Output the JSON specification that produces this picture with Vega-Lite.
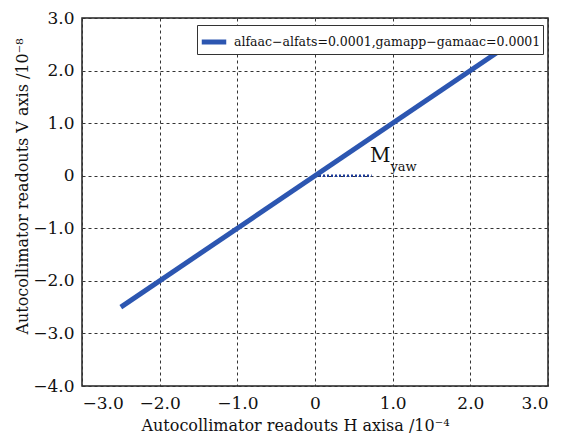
{
  "$schema": "https://vega.github.io/schema/vega-lite/v6.json",
  "width": 466,
  "height": 368,
  "autosize": "none",
  "padding": {"left": 82, "top": 18, "right": 15, "bottom": 55},
  "background": "white",
  "config": {
    "font": "DejaVu Serif",
    "view": {"stroke": "#222", "strokeWidth": 1.5},
    "axis": {
      "gridColor": "#333",
      "gridDash": [3, 3],
      "gridWidth": 1,
      "gridOpacity": 1,
      "domain": false,
      "ticks": false,
      "labelFont": "DejaVu Serif",
      "labelFontSize": 17,
      "labelColor": "#111",
      "titleFont": "DejaVu Serif",
      "titleFontSize": 16,
      "titleFontWeight": "normal",
      "titleColor": "#111"
    }
  },
  "datasets": {
    "series": [
      {"h": -2.5, "v": -2.5, "s": "alfaac−alfats=0.0001,gamapp−gamaac=0.0001"},
      {"h": 2.5, "v": 2.5, "s": "alfaac−alfats=0.0001,gamapp−gamaac=0.0001"}
    ],
    "ref": [
      {"h": 0, "v": 0},
      {"h": 0.73, "v": 0}
    ],
    "labels": [
      {"h": 0.84, "v": 0.38, "t": "M", "k": "main"},
      {"h": 1.14, "v": 0.17, "t": "yaw", "k": "sub"}
    ]
  },
  "layer": [
    {
      "data": {"name": "ref"},
      "mark": {"type": "line", "color": "#1b3a98", "strokeWidth": 2.5, "strokeDash": [2, 2]},
      "encoding": {
        "x": {"field": "h", "type": "quantitative"},
        "y": {"field": "v", "type": "quantitative"}
      }
    },
    {
      "data": {"name": "series"},
      "mark": {"type": "line", "strokeWidth": 5},
      "encoding": {
        "x": {
          "field": "h", "type": "quantitative",
          "scale": {"domain": [-3, 3], "nice": false, "zero": false},
          "axis": {
            "values": [-3, -2, -1, 0, 1, 2, 3],
            "labelExpr": "datum.value == 0 ? '0' : format(datum.value, '.1f')",
            "labelPadding": 9,
            "title": "Autocollimator readouts H axisa /10⁻⁴",
            "titlePadding": 6,
            "titleX": 213
          }
        },
        "y": {
          "field": "v", "type": "quantitative",
          "scale": {"domain": [-4, 3], "nice": false, "zero": false},
          "axis": {
            "values": [-4, -3, -2, -1, 0, 1, 2, 3],
            "labelExpr": "datum.value == 0 ? '0' : format(datum.value, '.1f')",
            "labelPadding": 8,
            "title": "Autocollimator readouts V axis /10⁻⁸",
            "titlePadding": 2,
            "titleY": 168
          }
        },
        "color": {
          "field": "s", "type": "nominal",
          "scale": {"range": ["#2c56b1"]},
          "legend": {
            "title": null,
            "orient": "none",
            "legendX": 115,
            "legendY": 7,
            "fillColor": "white",
            "strokeColor": "#333",
            "padding": 2,
            "symbolType": "stroke",
            "symbolSize": 600,
            "symbolStrokeWidth": 5,
            "labelOffset": 5,
            "labelFont": "DejaVu Serif",
            "labelFontSize": 12.5,
            "labelColor": "#111",
            "labelLimit": 400
          }
        }
      }
    },
    {
      "data": {"name": "labels"},
      "mark": {"type": "text", "font": "DejaVu Serif", "color": "#111"},
      "encoding": {
        "x": {"field": "h", "type": "quantitative"},
        "y": {"field": "v", "type": "quantitative"},
        "text": {"field": "t"},
        "size": {"field": "k", "type": "nominal", "scale": {"domain": ["main", "sub"], "range": [20, 13]}, "legend": null},
        "fontStyle": {"field": "k", "type": "nominal", "scale": {"domain": ["main", "sub"], "range": ["italic", "normal"]}, "legend": null}
      }
    }
  ]
}
